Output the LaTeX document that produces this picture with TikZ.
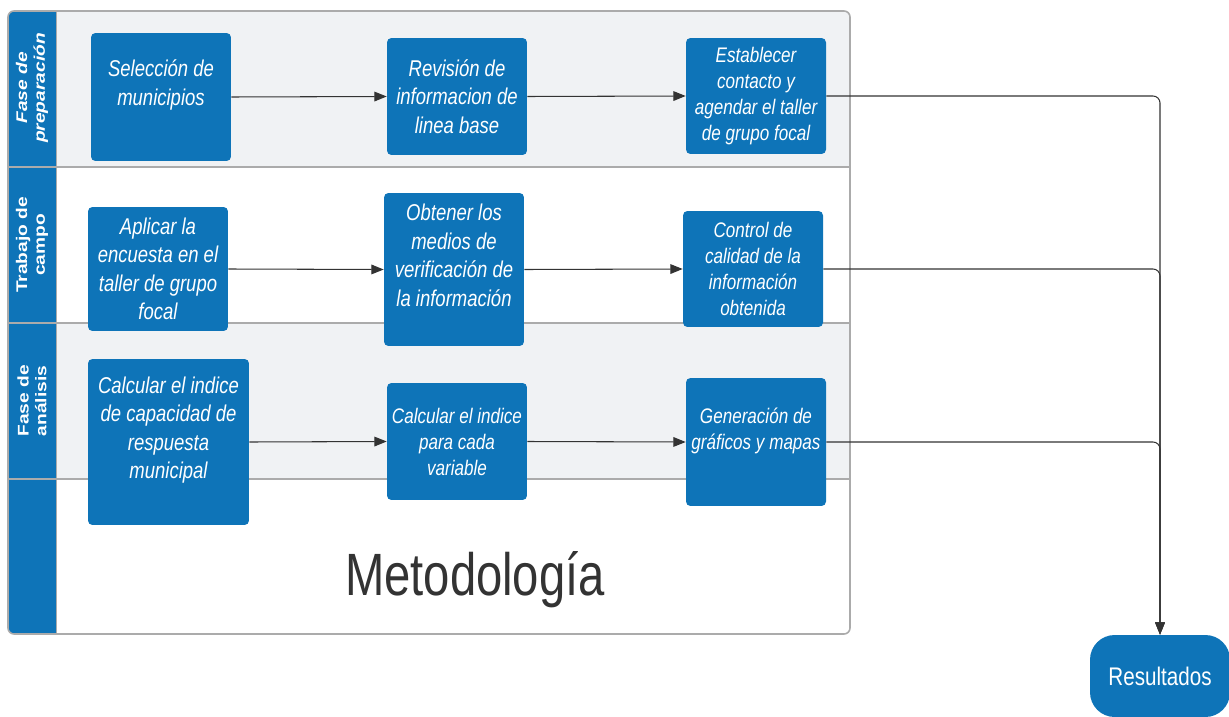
\documentclass[tikz,border=0pt]{standalone}
\usepackage{fontspec}
\usetikzlibrary{arrows.meta}

\newfontfamily\boxfont[FakeStretch=0.81]{Liberation Sans}
\newfontfamily\lanefont[FakeStretch=1.24]{Liberation Sans}
\newfontfamily\titlefont[FakeStretch=0.79]{Liberation Sans}

\definecolor{laneblue}{HTML}{0E74B8}
\definecolor{lanegray}{HTML}{F0F2F4}
\definecolor{rulegray}{HTML}{ABABAB}
\definecolor{linegray}{HTML}{333333}

\tikzset{
  task/.style={fill=laneblue, rounded corners=2.5pt, minimum width=2.8cm,
    text=white, align=center, inner sep=1pt,
    font=\boxfont\itshape\fontsize{13}{16.2}\selectfont},
  smalltask/.style={task, font=\boxfont\itshape\fontsize{12}{14.8}\selectfont},
  lanelabel/.style={rotate=90, text=white, align=center,
    font=\lanefont\bfseries\fontsize{8.8}{10.2}\selectfont},
  flow/.style={draw=linegray, line width=0.6pt, -{Triangle[length=7pt,width=5.5pt]}},
  lanerule/.style={draw=rulegray, line width=1pt}
}

\begin{document}
\begin{tikzpicture}[x=0.02cm, y=-0.02cm]
    \useasboundingbox (0,0) rectangle (1229,716);

    % Lanes of the container
    \begin{scope}
        \clip[rounded corners=3.4pt] (8,11) rectangle (850,634);
        \fill[lanegray] (8,11) rectangle (850,167);
        \fill[lanegray] (8,323) rectangle (850,479);
        \fill[laneblue] (8,11) rectangle (56,634);
    \end{scope}
    \foreach \y in {167, 323, 479} {
        \draw[lanerule] (8,\y) -- (850,\y);
    }
    \draw[draw=rulegray, line width=0.5pt] (56,11) -- (56,634);
    \draw[lanerule, line width=0.9pt, rounded corners=3.4pt] (8,11) rectangle (850,634);

    % Lane labels
    \node[lanelabel] (lprep) at (32,88) {\itshape Fase de\\\itshape preparación};
    \node[lanelabel] (lcampo) at (32,245) {Trabajo de\\campo};
    \node[lanelabel] (lanal) at (32,401) {Fase de\\análisis};

    % Fase de preparacion
    \node[task, minimum height=2.56cm] (sel) at (161,97) {Selección de\\municipios\\\mbox{}};
    \node[task, minimum height=2.34cm] (rev) at (457,96.5) {Revisión de\\informacion de\\linea base};
    \node[smalltask, minimum height=2.32cm] (est) at (756,96) {Establecer\\contacto y\\agendar el taller\\de grupo focal};

    % Trabajo de campo
    \node[task, minimum height=2.48cm] (apl) at (158,269) {Aplicar la\\encuesta en el\\taller de grupo\\focal};
    \node[task, minimum height=3.06cm] (obt) at (454,269.5) {Obtener los\\medios de\\verificación de\\la información\\\mbox{}};
    \node[smalltask, minimum height=2.32cm] (ctl) at (753,269) {Control de\\calidad de la\\información\\obtenida};

    % Fase de analisis
    \node[task, minimum width=3.22cm, minimum height=3.32cm] (cap) at (168.5,442) {Calcular el indice\\de capacidad de\\respuesta\\municipal\\\mbox{}};
    \node[smalltask, minimum height=2.34cm] (var) at (457,441.5) {Calcular el indice\\para cada\\variable};
    \node[smalltask, minimum height=2.56cm] (gen) at (756,442) {Generación de\\gráficos y mapas\\\mbox{}};

    % Title and result
    \node[anchor=base, text=linegray, font=\titlefont\fontsize{34}{40}\selectfont] (title) at (475,595) {Metodología};
    \node[fill=laneblue, rounded corners=14pt, minimum width=2.8cm, minimum height=1.64cm,
        text=white, font=\boxfont\fontsize{14.5}{17}\selectfont] (res) at (1160,676) {Resultados};

    % Connectors
    \draw[flow] (sel.east) -- (rev.west);
    \draw[flow] (rev.east) -- (est.west);
    \draw[flow] (apl.east) -- (obt.west);
    \draw[flow] (obt.east) -- (ctl.west);
    \draw[flow] (cap.east) -- (var.west);
    \draw[flow] (var.east) -- (gen.west);
    \foreach \n in {est, ctl, gen} {
        \draw[flow, rounded corners=4pt] (\n.east) -| (res.north);
    }
\end{tikzpicture}
\end{document}
